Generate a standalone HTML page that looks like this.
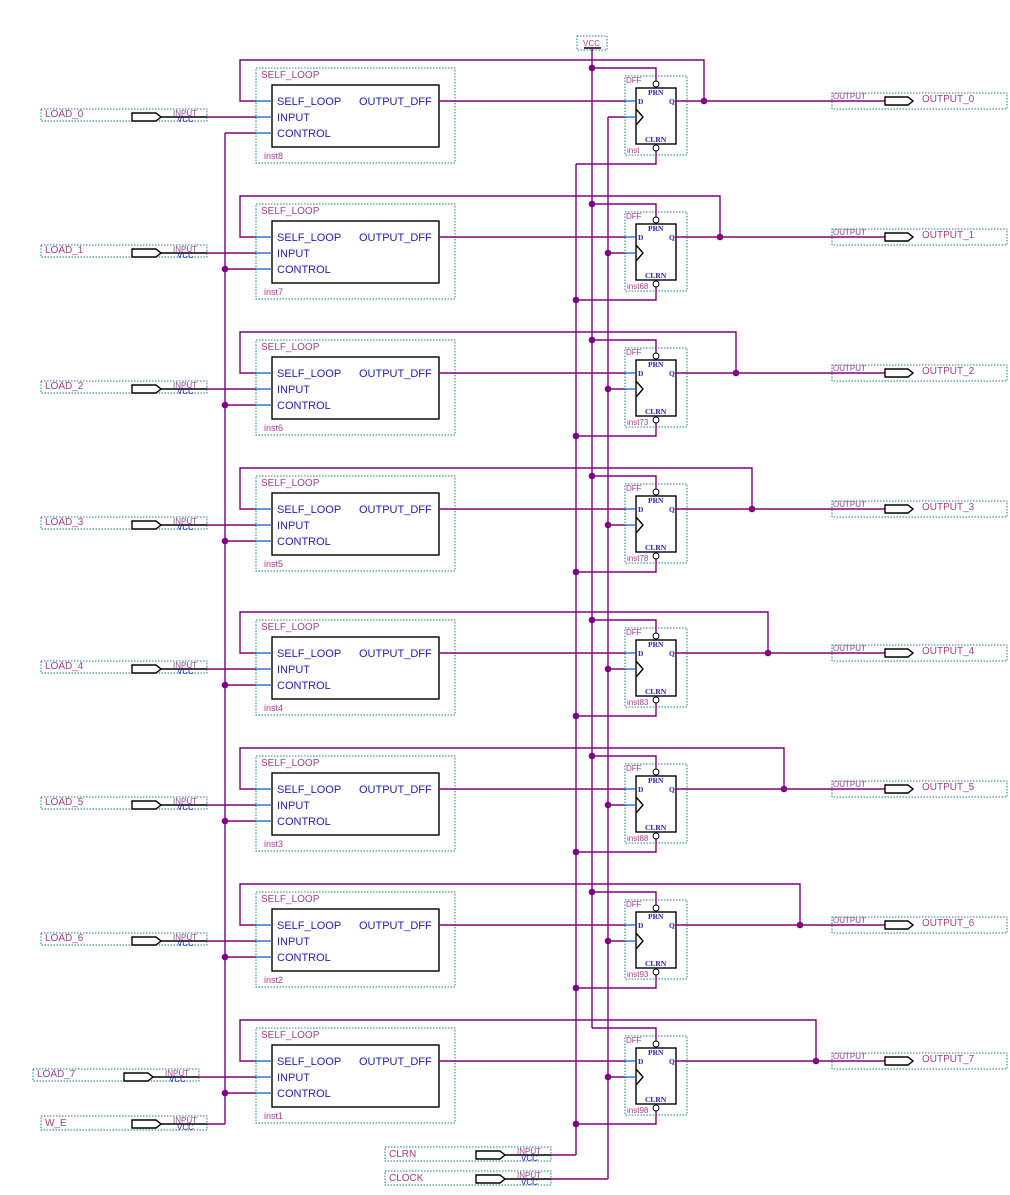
<!DOCTYPE html>
<html><head><meta charset="utf-8"><style>
html,body{margin:0;padding:0;background:#fff;}
svg{display:block;font-family:"Liberation Sans",sans-serif;}
.w{stroke:#800080;stroke-width:1.4;fill:none;}
.b{stroke:#1f6fd0;stroke-width:1.4;fill:none;}
.k{stroke:#000;stroke-width:1.4;fill:none;}
.dt{stroke:#1a8080;stroke-width:1;fill:none;stroke-dasharray:1.5,1.5;}
.lb{fill:#a04090;font-size:10px;}
.pn{fill:#2020c0;font-size:11px;}
.sm{font-size:8px;}
.dff{fill:#2020c0;font-size:7.5px;font-weight:bold;font-family:"Liberation Serif",serif;}
.dot{fill:#800080;}
</style></head><body>
<svg width="1010" height="1195" viewBox="0 0 1010 1195" xmlns="http://www.w3.org/2000/svg">
<!-- VCC -->
<rect class="dt" x="577" y="36" width="30" height="14"/>
<text class="lb sm" x="583" y="46">VCC</text>
<line class="k" x1="584" y1="48" x2="601" y2="48"/>
<!-- verticals -->
<line class="w" x1="592" y1="48" x2="592" y2="1028"/>
<line class="w" x1="225" y1="133" x2="225" y2="1124"/>
<line class="w" x1="576" y1="164" x2="576" y2="1155"/>
<line class="w" x1="608" y1="117" x2="608" y2="1179"/>

<!-- W_E -->
<rect class="dt" x="41" y="1116" width="166" height="14"/>
<text class="lb" x="45" y="1126">W_E</text>
<polygon class="k" points="132,1120 156,1120 161,1124 156,1128 132,1128" style="fill:#fff"/>
<line class="k" x1="161" y1="1124" x2="207" y2="1124"/>
<text class="lb sm" x="173" y="1123">INPUT</text><text class="pn sm" x="177" y="1130">VCC</text>
<line class="w" x1="207" y1="1124" x2="225" y2="1124"/>
<!-- CLRN -->
<rect class="dt" x="385" y="1147" width="166" height="14"/>
<text class="lb" x="389" y="1157">CLRN</text>
<polygon class="k" points="476,1151 500,1151 505,1155 500,1159 476,1159" style="fill:#fff"/>
<line class="k" x1="505" y1="1155" x2="551" y2="1155"/>
<text class="lb sm" x="517" y="1154">INPUT</text><text class="pn sm" x="521" y="1161">VCC</text>
<line class="w" x1="551" y1="1155" x2="576" y2="1155"/>
<!-- CLOCK -->
<rect class="dt" x="385" y="1171" width="166" height="14"/>
<text class="lb" x="389" y="1181">CLOCK</text>
<polygon class="k" points="476,1175 500,1175 505,1179 500,1183 476,1183" style="fill:#fff"/>
<line class="k" x1="505" y1="1179" x2="551" y2="1179"/>
<text class="lb sm" x="517" y="1178">INPUT</text><text class="pn sm" x="521" y="1185">VCC</text>
<line class="w" x1="551" y1="1179" x2="608" y2="1179"/>

<!-- ROW 0 -->
<g transform="translate(0,0)">
<rect class="dt" x="256" y="68" width="199" height="95"/><text class="lb" x="261" y="78">SELF_LOOP</text>
<rect class="k" x="272" y="85" width="167" height="62"/>
<line class="b" x1="256" y1="101" x2="272" y2="101"/><line class="b" x1="256" y1="117" x2="272" y2="117"/><line class="b" x1="256" y1="133" x2="272" y2="133"/>
<text class="pn" x="277" y="105">SELF_LOOP</text><text class="pn" x="277" y="121">INPUT</text><text class="pn" x="277" y="137">CONTROL</text><text class="pn" x="359" y="105">OUTPUT_DFF</text>
<text class="lb" x="264" y="159" style="font-size:9px">inst8</text>
<polyline class="w" points="256,101 240,101 240,60 704,60 704,101"/>
<rect class="dt" x="41" y="109" width="166" height="12"/><text class="lb" x="45" y="117">LOAD_0</text>
<polygon class="k" points="132,113 156,113 161,117 156,121 132,121" style="fill:#fff"/>
<line class="k" x1="161" y1="117" x2="207" y2="117"/><line class="w" x1="207" y1="117" x2="256" y2="117"/>
<text class="lb sm" x="173" y="116">INPUT</text><text class="pn sm" x="177" y="122">VCC</text>
<line class="w" x1="225" y1="133" x2="256" y2="133"/>
<line class="w" x1="439" y1="101" x2="625" y2="101"/>
<rect class="dt" x="625" y="76" width="62" height="79"/><text class="lb sm" x="626" y="83">DFF</text><text class="lb sm" x="627" y="153">inst</text>
<rect class="k" x="636" y="88" width="40" height="56"/>
<line class="b" x1="625" y1="101" x2="636" y2="101"/><line class="b" x1="625" y1="117" x2="636" y2="117"/>
<polyline class="k" points="636,109 643,117 636,125"/>
<text class="dff" x="638" y="104">D</text><text class="dff" x="669" y="104">Q</text><text class="dff" x="648" y="95">PRN</text><text class="dff" x="645" y="142">CLRN</text>
<polyline class="w" points="592,68 656,68 656,81"/><circle cx="656" cy="84" r="3" fill="#fff" stroke="#000"/>
<polyline class="w" points="576,164 656,164 656,151"/><circle cx="656" cy="148" r="3" fill="#fff" stroke="#000"/>
<line class="w" x1="608" y1="117" x2="625" y2="117"/>
<line class="w" x1="676" y1="101" x2="885" y2="101"/>
<rect class="dt" x="832" y="93" width="175" height="16"/><text class="lb sm" x="833" y="99">OUTPUT</text>
<polygon class="k" points="885,97 908,97 913,101 908,105 885,105" style="fill:#fff"/><text class="lb" x="922" y="102">OUTPUT_0</text>
<circle class="dot" cx="592" cy="68" r="3.3"/><circle class="dot" cx="704" cy="101" r="3.3"/>
</g>

<!-- ROW 1 -->
<g transform="translate(0,136)">
<rect class="dt" x="256" y="68" width="199" height="95"/><text class="lb" x="261" y="78">SELF_LOOP</text>
<rect class="k" x="272" y="85" width="167" height="62"/>
<line class="b" x1="256" y1="101" x2="272" y2="101"/><line class="b" x1="256" y1="117" x2="272" y2="117"/><line class="b" x1="256" y1="133" x2="272" y2="133"/>
<text class="pn" x="277" y="105">SELF_LOOP</text><text class="pn" x="277" y="121">INPUT</text><text class="pn" x="277" y="137">CONTROL</text><text class="pn" x="359" y="105">OUTPUT_DFF</text>
<text class="lb" x="264" y="159" style="font-size:9px">inst7</text>
<polyline class="w" points="256,101 240,101 240,60 720,60 720,101"/>
<rect class="dt" x="41" y="109" width="166" height="12"/><text class="lb" x="45" y="117">LOAD_1</text>
<polygon class="k" points="132,113 156,113 161,117 156,121 132,121" style="fill:#fff"/>
<line class="k" x1="161" y1="117" x2="207" y2="117"/><line class="w" x1="207" y1="117" x2="256" y2="117"/>
<text class="lb sm" x="173" y="116">INPUT</text><text class="pn sm" x="177" y="122">VCC</text>
<line class="w" x1="225" y1="133" x2="256" y2="133"/>
<line class="w" x1="439" y1="101" x2="625" y2="101"/>
<rect class="dt" x="625" y="76" width="62" height="79"/><text class="lb sm" x="626" y="83">DFF</text><text class="lb sm" x="627" y="153">inst68</text>
<rect class="k" x="636" y="88" width="40" height="56"/>
<line class="b" x1="625" y1="101" x2="636" y2="101"/><line class="b" x1="625" y1="117" x2="636" y2="117"/>
<polyline class="k" points="636,109 643,117 636,125"/>
<text class="dff" x="638" y="104">D</text><text class="dff" x="669" y="104">Q</text><text class="dff" x="648" y="95">PRN</text><text class="dff" x="645" y="142">CLRN</text>
<polyline class="w" points="592,68 656,68 656,81"/><circle cx="656" cy="84" r="3" fill="#fff" stroke="#000"/>
<polyline class="w" points="576,164 656,164 656,151"/><circle cx="656" cy="148" r="3" fill="#fff" stroke="#000"/>
<line class="w" x1="608" y1="117" x2="625" y2="117"/>
<line class="w" x1="676" y1="101" x2="885" y2="101"/>
<rect class="dt" x="832" y="93" width="175" height="16"/><text class="lb sm" x="833" y="99">OUTPUT</text>
<polygon class="k" points="885,97 908,97 913,101 908,105 885,105" style="fill:#fff"/><text class="lb" x="922" y="102">OUTPUT_1</text>
<circle class="dot" cx="592" cy="68" r="3.3"/><circle class="dot" cx="720" cy="101" r="3.3"/>
<circle class="dot" cx="225" cy="133" r="3.3"/><circle class="dot" cx="576" cy="164" r="3.3"/><circle class="dot" cx="608" cy="117" r="3.3"/>
</g>

<!-- ROW 2 -->
<g transform="translate(0,272)">
<rect class="dt" x="256" y="68" width="199" height="95"/><text class="lb" x="261" y="78">SELF_LOOP</text>
<rect class="k" x="272" y="85" width="167" height="62"/>
<line class="b" x1="256" y1="101" x2="272" y2="101"/><line class="b" x1="256" y1="117" x2="272" y2="117"/><line class="b" x1="256" y1="133" x2="272" y2="133"/>
<text class="pn" x="277" y="105">SELF_LOOP</text><text class="pn" x="277" y="121">INPUT</text><text class="pn" x="277" y="137">CONTROL</text><text class="pn" x="359" y="105">OUTPUT_DFF</text>
<text class="lb" x="264" y="159" style="font-size:9px">inst6</text>
<polyline class="w" points="256,101 240,101 240,60 736,60 736,101"/>
<rect class="dt" x="41" y="109" width="166" height="12"/><text class="lb" x="45" y="117">LOAD_2</text>
<polygon class="k" points="132,113 156,113 161,117 156,121 132,121" style="fill:#fff"/>
<line class="k" x1="161" y1="117" x2="207" y2="117"/><line class="w" x1="207" y1="117" x2="256" y2="117"/>
<text class="lb sm" x="173" y="116">INPUT</text><text class="pn sm" x="177" y="122">VCC</text>
<line class="w" x1="225" y1="133" x2="256" y2="133"/>
<line class="w" x1="439" y1="101" x2="625" y2="101"/>
<rect class="dt" x="625" y="76" width="62" height="79"/><text class="lb sm" x="626" y="83">DFF</text><text class="lb sm" x="627" y="153">inst73</text>
<rect class="k" x="636" y="88" width="40" height="56"/>
<line class="b" x1="625" y1="101" x2="636" y2="101"/><line class="b" x1="625" y1="117" x2="636" y2="117"/>
<polyline class="k" points="636,109 643,117 636,125"/>
<text class="dff" x="638" y="104">D</text><text class="dff" x="669" y="104">Q</text><text class="dff" x="648" y="95">PRN</text><text class="dff" x="645" y="142">CLRN</text>
<polyline class="w" points="592,68 656,68 656,81"/><circle cx="656" cy="84" r="3" fill="#fff" stroke="#000"/>
<polyline class="w" points="576,164 656,164 656,151"/><circle cx="656" cy="148" r="3" fill="#fff" stroke="#000"/>
<line class="w" x1="608" y1="117" x2="625" y2="117"/>
<line class="w" x1="676" y1="101" x2="885" y2="101"/>
<rect class="dt" x="832" y="93" width="175" height="16"/><text class="lb sm" x="833" y="99">OUTPUT</text>
<polygon class="k" points="885,97 908,97 913,101 908,105 885,105" style="fill:#fff"/><text class="lb" x="922" y="102">OUTPUT_2</text>
<circle class="dot" cx="592" cy="68" r="3.3"/><circle class="dot" cx="736" cy="101" r="3.3"/>
<circle class="dot" cx="225" cy="133" r="3.3"/><circle class="dot" cx="576" cy="164" r="3.3"/><circle class="dot" cx="608" cy="117" r="3.3"/>
</g>

<!-- ROW 3 -->
<g transform="translate(0,408)">
<rect class="dt" x="256" y="68" width="199" height="95"/><text class="lb" x="261" y="78">SELF_LOOP</text>
<rect class="k" x="272" y="85" width="167" height="62"/>
<line class="b" x1="256" y1="101" x2="272" y2="101"/><line class="b" x1="256" y1="117" x2="272" y2="117"/><line class="b" x1="256" y1="133" x2="272" y2="133"/>
<text class="pn" x="277" y="105">SELF_LOOP</text><text class="pn" x="277" y="121">INPUT</text><text class="pn" x="277" y="137">CONTROL</text><text class="pn" x="359" y="105">OUTPUT_DFF</text>
<text class="lb" x="264" y="159" style="font-size:9px">inst5</text>
<polyline class="w" points="256,101 240,101 240,60 752,60 752,101"/>
<rect class="dt" x="41" y="109" width="166" height="12"/><text class="lb" x="45" y="117">LOAD_3</text>
<polygon class="k" points="132,113 156,113 161,117 156,121 132,121" style="fill:#fff"/>
<line class="k" x1="161" y1="117" x2="207" y2="117"/><line class="w" x1="207" y1="117" x2="256" y2="117"/>
<text class="lb sm" x="173" y="116">INPUT</text><text class="pn sm" x="177" y="122">VCC</text>
<line class="w" x1="225" y1="133" x2="256" y2="133"/>
<line class="w" x1="439" y1="101" x2="625" y2="101"/>
<rect class="dt" x="625" y="76" width="62" height="79"/><text class="lb sm" x="626" y="83">DFF</text><text class="lb sm" x="627" y="153">inst78</text>
<rect class="k" x="636" y="88" width="40" height="56"/>
<line class="b" x1="625" y1="101" x2="636" y2="101"/><line class="b" x1="625" y1="117" x2="636" y2="117"/>
<polyline class="k" points="636,109 643,117 636,125"/>
<text class="dff" x="638" y="104">D</text><text class="dff" x="669" y="104">Q</text><text class="dff" x="648" y="95">PRN</text><text class="dff" x="645" y="142">CLRN</text>
<polyline class="w" points="592,68 656,68 656,81"/><circle cx="656" cy="84" r="3" fill="#fff" stroke="#000"/>
<polyline class="w" points="576,164 656,164 656,151"/><circle cx="656" cy="148" r="3" fill="#fff" stroke="#000"/>
<line class="w" x1="608" y1="117" x2="625" y2="117"/>
<line class="w" x1="676" y1="101" x2="885" y2="101"/>
<rect class="dt" x="832" y="93" width="175" height="16"/><text class="lb sm" x="833" y="99">OUTPUT</text>
<polygon class="k" points="885,97 908,97 913,101 908,105 885,105" style="fill:#fff"/><text class="lb" x="922" y="102">OUTPUT_3</text>
<circle class="dot" cx="592" cy="68" r="3.3"/><circle class="dot" cx="752" cy="101" r="3.3"/>
<circle class="dot" cx="225" cy="133" r="3.3"/><circle class="dot" cx="576" cy="164" r="3.3"/><circle class="dot" cx="608" cy="117" r="3.3"/>
</g>

<!-- ROW 4 -->
<g transform="translate(0,552)">
<rect class="dt" x="256" y="68" width="199" height="95"/><text class="lb" x="261" y="78">SELF_LOOP</text>
<rect class="k" x="272" y="85" width="167" height="62"/>
<line class="b" x1="256" y1="101" x2="272" y2="101"/><line class="b" x1="256" y1="117" x2="272" y2="117"/><line class="b" x1="256" y1="133" x2="272" y2="133"/>
<text class="pn" x="277" y="105">SELF_LOOP</text><text class="pn" x="277" y="121">INPUT</text><text class="pn" x="277" y="137">CONTROL</text><text class="pn" x="359" y="105">OUTPUT_DFF</text>
<text class="lb" x="264" y="159" style="font-size:9px">inst4</text>
<polyline class="w" points="256,101 240,101 240,60 768,60 768,101"/>
<rect class="dt" x="41" y="109" width="166" height="12"/><text class="lb" x="45" y="117">LOAD_4</text>
<polygon class="k" points="132,113 156,113 161,117 156,121 132,121" style="fill:#fff"/>
<line class="k" x1="161" y1="117" x2="207" y2="117"/><line class="w" x1="207" y1="117" x2="256" y2="117"/>
<text class="lb sm" x="173" y="116">INPUT</text><text class="pn sm" x="177" y="122">VCC</text>
<line class="w" x1="225" y1="133" x2="256" y2="133"/>
<line class="w" x1="439" y1="101" x2="625" y2="101"/>
<rect class="dt" x="625" y="76" width="62" height="79"/><text class="lb sm" x="626" y="83">DFF</text><text class="lb sm" x="627" y="153">inst83</text>
<rect class="k" x="636" y="88" width="40" height="56"/>
<line class="b" x1="625" y1="101" x2="636" y2="101"/><line class="b" x1="625" y1="117" x2="636" y2="117"/>
<polyline class="k" points="636,109 643,117 636,125"/>
<text class="dff" x="638" y="104">D</text><text class="dff" x="669" y="104">Q</text><text class="dff" x="648" y="95">PRN</text><text class="dff" x="645" y="142">CLRN</text>
<polyline class="w" points="592,68 656,68 656,81"/><circle cx="656" cy="84" r="3" fill="#fff" stroke="#000"/>
<polyline class="w" points="576,164 656,164 656,151"/><circle cx="656" cy="148" r="3" fill="#fff" stroke="#000"/>
<line class="w" x1="608" y1="117" x2="625" y2="117"/>
<line class="w" x1="676" y1="101" x2="885" y2="101"/>
<rect class="dt" x="832" y="93" width="175" height="16"/><text class="lb sm" x="833" y="99">OUTPUT</text>
<polygon class="k" points="885,97 908,97 913,101 908,105 885,105" style="fill:#fff"/><text class="lb" x="922" y="102">OUTPUT_4</text>
<circle class="dot" cx="592" cy="68" r="3.3"/><circle class="dot" cx="768" cy="101" r="3.3"/>
<circle class="dot" cx="225" cy="133" r="3.3"/><circle class="dot" cx="576" cy="164" r="3.3"/><circle class="dot" cx="608" cy="117" r="3.3"/>
</g>

<!-- ROW 5 -->
<g transform="translate(0,688)">
<rect class="dt" x="256" y="68" width="199" height="95"/><text class="lb" x="261" y="78">SELF_LOOP</text>
<rect class="k" x="272" y="85" width="167" height="62"/>
<line class="b" x1="256" y1="101" x2="272" y2="101"/><line class="b" x1="256" y1="117" x2="272" y2="117"/><line class="b" x1="256" y1="133" x2="272" y2="133"/>
<text class="pn" x="277" y="105">SELF_LOOP</text><text class="pn" x="277" y="121">INPUT</text><text class="pn" x="277" y="137">CONTROL</text><text class="pn" x="359" y="105">OUTPUT_DFF</text>
<text class="lb" x="264" y="159" style="font-size:9px">inst3</text>
<polyline class="w" points="256,101 240,101 240,60 784,60 784,101"/>
<rect class="dt" x="41" y="109" width="166" height="12"/><text class="lb" x="45" y="117">LOAD_5</text>
<polygon class="k" points="132,113 156,113 161,117 156,121 132,121" style="fill:#fff"/>
<line class="k" x1="161" y1="117" x2="207" y2="117"/><line class="w" x1="207" y1="117" x2="256" y2="117"/>
<text class="lb sm" x="173" y="116">INPUT</text><text class="pn sm" x="177" y="122">VCC</text>
<line class="w" x1="225" y1="133" x2="256" y2="133"/>
<line class="w" x1="439" y1="101" x2="625" y2="101"/>
<rect class="dt" x="625" y="76" width="62" height="79"/><text class="lb sm" x="626" y="83">DFF</text><text class="lb sm" x="627" y="153">inst88</text>
<rect class="k" x="636" y="88" width="40" height="56"/>
<line class="b" x1="625" y1="101" x2="636" y2="101"/><line class="b" x1="625" y1="117" x2="636" y2="117"/>
<polyline class="k" points="636,109 643,117 636,125"/>
<text class="dff" x="638" y="104">D</text><text class="dff" x="669" y="104">Q</text><text class="dff" x="648" y="95">PRN</text><text class="dff" x="645" y="142">CLRN</text>
<polyline class="w" points="592,68 656,68 656,81"/><circle cx="656" cy="84" r="3" fill="#fff" stroke="#000"/>
<polyline class="w" points="576,164 656,164 656,151"/><circle cx="656" cy="148" r="3" fill="#fff" stroke="#000"/>
<line class="w" x1="608" y1="117" x2="625" y2="117"/>
<line class="w" x1="676" y1="101" x2="885" y2="101"/>
<rect class="dt" x="832" y="93" width="175" height="16"/><text class="lb sm" x="833" y="99">OUTPUT</text>
<polygon class="k" points="885,97 908,97 913,101 908,105 885,105" style="fill:#fff"/><text class="lb" x="922" y="102">OUTPUT_5</text>
<circle class="dot" cx="592" cy="68" r="3.3"/><circle class="dot" cx="784" cy="101" r="3.3"/>
<circle class="dot" cx="225" cy="133" r="3.3"/><circle class="dot" cx="576" cy="164" r="3.3"/><circle class="dot" cx="608" cy="117" r="3.3"/>
</g>

<!-- ROW 6 -->
<g transform="translate(0,824)">
<rect class="dt" x="256" y="68" width="199" height="95"/><text class="lb" x="261" y="78">SELF_LOOP</text>
<rect class="k" x="272" y="85" width="167" height="62"/>
<line class="b" x1="256" y1="101" x2="272" y2="101"/><line class="b" x1="256" y1="117" x2="272" y2="117"/><line class="b" x1="256" y1="133" x2="272" y2="133"/>
<text class="pn" x="277" y="105">SELF_LOOP</text><text class="pn" x="277" y="121">INPUT</text><text class="pn" x="277" y="137">CONTROL</text><text class="pn" x="359" y="105">OUTPUT_DFF</text>
<text class="lb" x="264" y="159" style="font-size:9px">inst2</text>
<polyline class="w" points="256,101 240,101 240,60 800,60 800,101"/>
<rect class="dt" x="41" y="109" width="166" height="12"/><text class="lb" x="45" y="117">LOAD_6</text>
<polygon class="k" points="132,113 156,113 161,117 156,121 132,121" style="fill:#fff"/>
<line class="k" x1="161" y1="117" x2="207" y2="117"/><line class="w" x1="207" y1="117" x2="256" y2="117"/>
<text class="lb sm" x="173" y="116">INPUT</text><text class="pn sm" x="177" y="122">VCC</text>
<line class="w" x1="225" y1="133" x2="256" y2="133"/>
<line class="w" x1="439" y1="101" x2="625" y2="101"/>
<rect class="dt" x="625" y="76" width="62" height="79"/><text class="lb sm" x="626" y="83">DFF</text><text class="lb sm" x="627" y="153">inst93</text>
<rect class="k" x="636" y="88" width="40" height="56"/>
<line class="b" x1="625" y1="101" x2="636" y2="101"/><line class="b" x1="625" y1="117" x2="636" y2="117"/>
<polyline class="k" points="636,109 643,117 636,125"/>
<text class="dff" x="638" y="104">D</text><text class="dff" x="669" y="104">Q</text><text class="dff" x="648" y="95">PRN</text><text class="dff" x="645" y="142">CLRN</text>
<polyline class="w" points="592,68 656,68 656,81"/><circle cx="656" cy="84" r="3" fill="#fff" stroke="#000"/>
<polyline class="w" points="576,164 656,164 656,151"/><circle cx="656" cy="148" r="3" fill="#fff" stroke="#000"/>
<line class="w" x1="608" y1="117" x2="625" y2="117"/>
<line class="w" x1="676" y1="101" x2="885" y2="101"/>
<rect class="dt" x="832" y="93" width="175" height="16"/><text class="lb sm" x="833" y="99">OUTPUT</text>
<polygon class="k" points="885,97 908,97 913,101 908,105 885,105" style="fill:#fff"/><text class="lb" x="922" y="102">OUTPUT_6</text>
<circle class="dot" cx="592" cy="68" r="3.3"/><circle class="dot" cx="800" cy="101" r="3.3"/>
<circle class="dot" cx="225" cy="133" r="3.3"/><circle class="dot" cx="576" cy="164" r="3.3"/><circle class="dot" cx="608" cy="117" r="3.3"/>
</g>

<!-- ROW 7 -->
<g transform="translate(0,960)">
<rect class="dt" x="256" y="68" width="199" height="95"/><text class="lb" x="261" y="78">SELF_LOOP</text>
<rect class="k" x="272" y="85" width="167" height="62"/>
<line class="b" x1="256" y1="101" x2="272" y2="101"/><line class="b" x1="256" y1="117" x2="272" y2="117"/><line class="b" x1="256" y1="133" x2="272" y2="133"/>
<text class="pn" x="277" y="105">SELF_LOOP</text><text class="pn" x="277" y="121">INPUT</text><text class="pn" x="277" y="137">CONTROL</text><text class="pn" x="359" y="105">OUTPUT_DFF</text>
<text class="lb" x="264" y="159" style="font-size:9px">inst1</text>
<polyline class="w" points="256,101 240,101 240,60 816,60 816,101"/>
<rect class="dt" x="33" y="109" width="166" height="12"/><text class="lb" x="37" y="117">LOAD_7</text>
<polygon class="k" points="124,113 148,113 153,117 148,121 124,121" style="fill:#fff"/>
<line class="k" x1="153" y1="117" x2="199" y2="117"/><line class="w" x1="199" y1="117" x2="256" y2="117"/>
<text class="lb sm" x="165" y="116">INPUT</text><text class="pn sm" x="169" y="122">VCC</text>
<line class="w" x1="225" y1="133" x2="256" y2="133"/>
<line class="w" x1="439" y1="101" x2="625" y2="101"/>
<rect class="dt" x="625" y="76" width="62" height="79"/><text class="lb sm" x="626" y="83">DFF</text><text class="lb sm" x="627" y="153">inst98</text>
<rect class="k" x="636" y="88" width="40" height="56"/>
<line class="b" x1="625" y1="101" x2="636" y2="101"/><line class="b" x1="625" y1="117" x2="636" y2="117"/>
<polyline class="k" points="636,109 643,117 636,125"/>
<text class="dff" x="638" y="104">D</text><text class="dff" x="669" y="104">Q</text><text class="dff" x="648" y="95">PRN</text><text class="dff" x="645" y="142">CLRN</text>
<polyline class="w" points="592,68 656,68 656,81"/><circle cx="656" cy="84" r="3" fill="#fff" stroke="#000"/>
<polyline class="w" points="576,164 656,164 656,151"/><circle cx="656" cy="148" r="3" fill="#fff" stroke="#000"/>
<line class="w" x1="608" y1="117" x2="625" y2="117"/>
<line class="w" x1="676" y1="101" x2="885" y2="101"/>
<rect class="dt" x="832" y="93" width="175" height="16"/><text class="lb sm" x="833" y="99">OUTPUT</text>
<polygon class="k" points="885,97 908,97 913,101 908,105 885,105" style="fill:#fff"/><text class="lb" x="922" y="102">OUTPUT_7</text>
<circle class="dot" cx="816" cy="101" r="3.3"/>
<circle class="dot" cx="225" cy="133" r="3.3"/><circle class="dot" cx="576" cy="164" r="3.3"/><circle class="dot" cx="608" cy="117" r="3.3"/>
</g>
</svg>
</body></html>
